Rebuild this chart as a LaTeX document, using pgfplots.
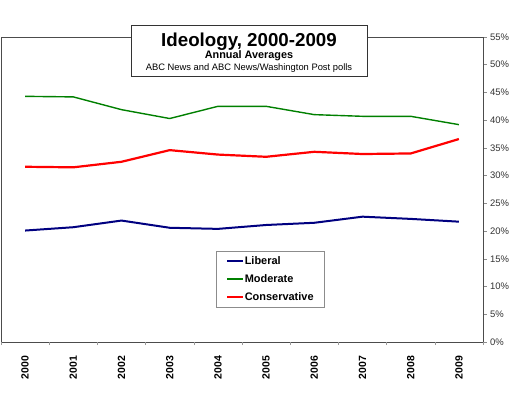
\documentclass[border=0pt]{standalone}
\usepackage{fontspec}
\setmainfont{Liberation Sans}
\usepackage{pgfplots}
\pgfplotsset{compat=1.18}
\definecolor{libblue}{RGB}{0,0,128}
\definecolor{modgreen}{RGB}{0,128,0}
\definecolor{conred}{RGB}{255,0,0}
\begin{document}
\begin{tikzpicture}
\useasboundingbox (0bp,-411bp) rectangle (531bp,0bp);
\fill[white] (0bp,-411bp) rectangle (531bp,0bp);
\begin{axis}[
  at={(1bp,-342bp)}, anchor=south west,
  scale only axis, width=482bp, height=305bp,
  xmin=-0.5, xmax=9.5, ymin=0, ymax=55,
  axis line style={black!70, line width=0.9bp},
  xtick={0,...,9},
  xticklabels={2000,2001,2002,2003,2004,2005,2006,2007,2008,2009},
  x tick label style={rotate=90, anchor=east, font=\fontsize{10.5}{12}\selectfont\bfseries, xshift=-7bp},
  xtick pos=bottom,
  major x tick style={draw=none},
  extra x ticks={-0.5,0.5,1.5,2.5,3.5,4.5,5.5,6.5,7.5,8.5,9.5},
  extra x tick labels={},
  extra x tick style={tick align=outside, major tick length=3bp, major x tick style={draw=black!40}},
  ytick={0,5,...,55},
  yticklabels={0\%,5\%,10\%,15\%,20\%,25\%,30\%,35\%,40\%,45\%,50\%,55\%},
  ytick pos=right, yticklabel pos=right,
  tick align=outside, major tick length=3.5bp,
  tick style={black!45, line width=0.6bp},
  y tick label style={font=\fontsize{9.5}{11}\selectfont, text=black!80},
  legend style={at={(0.446,0.298)}, anchor=north west, draw=black!45, line width=0.6bp,
    inner xsep=10bp, inner ysep=1bp, row sep=0pt,
    font=\fontsize{11}{13}\selectfont\bfseries,
    nodes={inner xsep=0.5bp, inner ysep=0pt, minimum height=18bp}},
  legend cell align=left,
  legend image code/.code={\draw[#1, line width=2bp] (0bp,0bp) -- (16bp,0bp);},
]
\addplot[libblue, line width=2bp] coordinates {(0,20.1) (1,20.7) (2,21.9) (3,20.6) (4,20.4) (5,21.1) (6,21.5) (7,22.6) (8,22.2) (9,21.7)};
\addlegendentry{Liberal}
\addplot[modgreen, line width=1.4bp] coordinates {(0,44.3) (1,44.2) (2,41.9) (3,40.3) (4,42.5) (5,42.5) (6,41.0) (7,40.7) (8,40.7) (9,39.2)};
\addlegendentry{Moderate}
\addplot[conred, line width=2.2bp] coordinates {(0,31.6) (1,31.5) (2,32.5) (3,34.6) (4,33.8) (5,33.4) (6,34.3) (7,33.9) (8,34.0) (9,36.6)};
\addlegendentry{Conservative}
\end{axis}
\draw[black!80, fill=white, line width=1bp] (131bp,-25bp) rectangle (367bp,-76bp);
\node[anchor=base, inner sep=0pt, font=\fontsize{18.8}{20}\selectfont\bfseries] at (249bp,-46.2bp) {Ideology, 2000-2009};
\node[anchor=base, inner sep=0pt, font=\fontsize{10.9}{12}\selectfont\bfseries] at (249bp,-58.5bp) {Annual Averages};
\node[anchor=base, inner sep=0pt, font=\fontsize{9.4}{11}\selectfont] at (249bp,-70.5bp) {ABC News and ABC News/Washington Post polls};
\end{tikzpicture}
\end{document}
